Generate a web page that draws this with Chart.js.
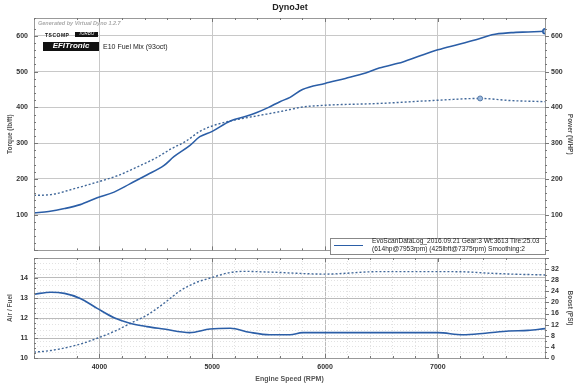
<!DOCTYPE html>
<html>
<head>
<meta charset="utf-8">
<script src="https://cdn.jsdelivr.net/npm/chart.js@4.4.0/dist/chart.umd.min.js"></script>
<style>
  body { margin: 0; background: #fff; font-family: "Liberation Sans", Arial, sans-serif; }
  #wrap { position: relative; width: 580px; height: 386px; overflow: hidden; }
  canvas { position: absolute; left: 0; }
  .t { position: absolute; white-space: nowrap; line-height: 1; }
</style>
</head>
<body>
<div id="wrap">
  <canvas id="top" width="580" height="256" style="top:0"></canvas>
  <canvas id="bot" width="580" height="132" style="top:254px"></canvas>

  <div class="t" style="left:0;width:580px;text-align:center;top:3px;font-size:9px;font-weight:bold;color:#222">DynoJet</div>
  <div class="t" style="left:38px;top:21px;font-size:5.5px;font-style:italic;font-weight:bold;color:#aaa">Generated by Virtual Dyno 1.2.7</div>
  <div class="t" style="left:45px;top:33px;font-size:5px;font-weight:bold;color:#111;letter-spacing:0.5px">TSCOMP</div>
  <div class="t" style="left:75px;top:32px;width:23px;height:5px;background:#111;color:#fff;font-size:4.5px;font-style:italic;text-align:center">TURBO</div>
  <div class="t" style="left:43px;top:42px;width:56px;height:9px;background:#111;color:#fff;font-size:8px;font-style:italic;font-weight:bold;text-align:center">EFITronic</div>
  <div class="t" style="left:103px;top:43px;font-size:7px;color:#222">E10 Fuel Mix (93oct)</div>

  <div class="t" style="left:330px;top:238px;width:214px;height:15px;border:1px solid #888;background:#fff"></div>
  <div class="t" style="left:334px;top:245px;width:29px;height:0;border-top:1.5px solid #2b5ea7"></div>
  <div class="t" style="left:372px;top:238px;font-size:6.6px;color:#222">EvoScanDataLog_2016.09.21 Gear:3 Wt:3613 Tire:25.03</div>
  <div class="t" style="left:372px;top:246px;font-size:6.6px;color:#222">(614hp@7953rpm) (425lbft@7375rpm) Smoothing:2</div>
</div>

<script>
// top chart: power (solid, right axis) and torque (dotted, left axis)
const powerRpm = [3420, 3550, 3690, 3830, 3980, 4130, 4270, 4420, 4570, 4660, 4800, 4890, 5000, 5160, 5300, 5390, 5500, 5600, 5690, 5800, 6000, 6180, 6360, 6480, 6690, 6850, 7000, 7180, 7360, 7480, 7650, 7800, 7953];
const powerHp = [105, 109, 117, 128, 147, 163, 186, 211, 237, 262, 293, 318, 333, 362, 375, 385, 400, 416, 428, 450, 467, 481, 496, 510, 527, 545, 561, 576, 591, 603, 609, 611, 613];

const torqueRpm = [3420, 3570, 3770, 3980, 4160, 4360, 4510, 4630, 4770, 4890, 5000, 5160, 5390, 5600, 5690, 5800, 6000, 6480, 7000, 7375, 7650, 7953];
const torqueLbft = [154, 156, 172, 191, 209, 237, 260, 283, 306, 333, 348, 362, 376, 388, 394, 401, 406, 411, 420, 425, 419, 416];

// bottom chart: air/fuel (solid, left) and boost (dotted, right)
const afrRpm = [3420, 3570, 3690, 3830, 3980, 4130, 4270, 4420, 4570, 4800, 4980, 5160, 5330, 5510, 5690, 5800, 6190, 7000, 7220, 7420, 7630, 7800, 7950];
const afrVal = [13.19, 13.29, 13.23, 12.98, 12.48, 12.01, 11.74, 11.57, 11.45, 11.27, 11.45, 11.49, 11.29, 11.16, 11.16, 11.27, 11.27, 11.27, 11.16, 11.24, 11.35, 11.38, 11.47];

const boostRpm = [3420, 3570, 3830, 3980, 4160, 4270, 4420, 4570, 4720, 4860, 5000, 5160, 5300, 5450, 5600, 5690, 6000, 6480, 7000, 7250, 7420, 7660, 7950];
const boostPsi = [2.1, 2.7, 5.0, 7.1, 10.1, 12.4, 15.4, 19.6, 24.3, 27.2, 29.0, 30.8, 31.2, 31.0, 30.8, 30.6, 30.2, 31.1, 31.1, 31.0, 30.6, 30.2, 29.9];

const rpmMin = 3420, rpmMax = 7950;
const rpmLabels = [4000, 5000, 6000, 7000];

const pts = (xs, ys) => xs.map((x, i) => ({ x: x, y: ys[i] }));
const isMult = (v, m) => Math.abs(v / m - Math.round(v / m)) < 1e-6;

const blue = "#2b5ea7";
const dotBlue = "#41689a";
const tickFont = { family: "Liberation Sans", size: 7, weight: "bold" };
const titleFont = { family: "Liberation Sans", size: 6.5, weight: "bold" };

function noPad(s) { s.paddingTop = 0; s.paddingBottom = 0; s.paddingLeft = 0; s.paddingRight = 0; }

// frame and small inward tick marks
function frame(majors) {
  return {
    id: "frame",
    afterDraw(chart) {
      const { ctx, chartArea: a } = chart;
      ctx.save();
      ctx.strokeStyle = "#999";
      ctx.lineWidth = 1;
      ctx.strokeRect(Math.round(a.left) + 0.5, Math.round(a.top) + 0.5, Math.round(a.right - a.left), Math.round(a.bottom - a.top));
      ctx.strokeStyle = "#777";
      Object.keys(majors).forEach(id => {
        const s = chart.scales[id];
        s.ticks.forEach(t => {
          const p = Math.round(s.getPixelForValue(t.value)) + 0.5;
          const len = isMult(t.value, majors[id]) ? 4 : 2;
          ctx.beginPath();
          if (s.isHorizontal()) {
            ctx.moveTo(p, a.bottom); ctx.lineTo(p, a.bottom - len);
            ctx.moveTo(p, a.top); ctx.lineTo(p, a.top + len);
          } else if (s.position === "left") {
            ctx.moveTo(a.left, p); ctx.lineTo(a.left + len, p);
          } else {
            ctx.moveTo(a.right, p); ctx.lineTo(a.right + len, p);
          }
          ctx.stroke();
        });
      });
      ctx.restore();
    }
  };
}

const lastIdx = powerRpm.length - 1;
const peakIdx = torqueLbft.indexOf(Math.max(...torqueLbft));

new Chart(document.getElementById("top"), {
  type: "line",
  data: {
    datasets: [
      {
        label: "Power",
        data: pts(powerRpm, powerHp),
        yAxisID: "y1",
        borderColor: blue,
        borderWidth: 1.6,
        backgroundColor: "#9bb8dc",
        pointBorderColor: blue,
        pointRadius: c => (c.dataIndex === lastIdx ? 2.5 : 0),
        cubicInterpolationMode: "monotone",
      },
      {
        label: "Torque",
        data: pts(torqueRpm, torqueLbft),
        yAxisID: "y",
        borderColor: dotBlue,
        borderWidth: 1.4,
        borderDash: [2, 2],
        backgroundColor: "#9bb8dc",
        pointBorderColor: dotBlue,
        pointBorderWidth: 0.8,
        pointRadius: c => (c.dataIndex === peakIdx ? 2.5 : 0),
        cubicInterpolationMode: "monotone",
      },
    ],
  },
  options: {
    responsive: false,
    animation: false,
    layout: { padding: { top: 18, left: 0, right: 0, bottom: 0 } },
    plugins: { legend: { display: false }, tooltip: { enabled: false } },
    scales: {
      x: {
        type: "linear",
        min: rpmMin,
        max: rpmMax,
        ticks: { display: false, stepSize: 200, autoSkip: false, maxTicksLimit: 1000 },
        grid: { drawTicks: false, color: c => (c.tick && rpmLabels.includes(c.tick.value) ? "#c8c8c8" : "rgba(0,0,0,0)") },
        border: { color: "#999" },
        afterFit: s => { s.height = 3; noPad(s); },
      },
      y: {
        position: "left",
        min: 0,
        max: 650,
        ticks: {
          stepSize: 20, autoSkip: false, maxTicksLimit: 1000, padding: 6, color: "#333", font: tickFont,
          callback: v => (isMult(v, 100) && v > 0 ? String(v) : ""),
        },
        grid: { drawTicks: false, color: c => (c.tick && isMult(c.tick.value, 100) ? "#c8c8c8" : "rgba(0,0,0,0)") },
        border: { color: "#999" },
        title: { display: true, text: "Torque (lb/ft)", color: "#555", font: titleFont, padding: { top: 6, bottom: 0 } },
        afterFit: s => { s.width = 34; noPad(s); },
      },
      y1: {
        position: "right",
        min: 0,
        max: 650,
        ticks: {
          stepSize: 20, autoSkip: false, maxTicksLimit: 1000, padding: 6, color: "#333", font: tickFont,
          callback: v => (isMult(v, 100) && v > 0 ? String(v) : ""),
        },
        grid: { drawTicks: false, drawOnChartArea: false },
        border: { color: "#999" },
        title: { display: true, text: "Power (WHP)", color: "#555", font: titleFont, padding: { top: 6, bottom: 0 } },
        afterFit: s => { s.width = 35; noPad(s); },
      },
    },
  },
  plugins: [frame({ x: 1000, y: 100, y1: 100 })],
});

new Chart(document.getElementById("bot"), {
  type: "line",
  data: {
    datasets: [
      {
        label: "Air / Fuel",
        data: pts(afrRpm, afrVal),
        yAxisID: "y",
        borderColor: blue,
        borderWidth: 1.6,
        pointRadius: 0,
        cubicInterpolationMode: "monotone",
      },
      {
        label: "Boost",
        data: pts(boostRpm, boostPsi),
        yAxisID: "y1",
        borderColor: dotBlue,
        borderWidth: 1.4,
        borderDash: [2, 2],
        pointRadius: 0,
        cubicInterpolationMode: "monotone",
      },
    ],
  },
  options: {
    responsive: false,
    animation: false,
    layout: { padding: { top: 4, left: 0, right: 0, bottom: 0 } },
    plugins: { legend: { display: false }, tooltip: { enabled: false } },
    scales: {
      x: {
        type: "linear",
        min: rpmMin,
        max: rpmMax,
        ticks: {
          stepSize: 200, autoSkip: false, maxTicksLimit: 1000, padding: 5, color: "#333", font: tickFont, maxRotation: 0,
          callback: v => (rpmLabels.includes(v) ? String(v) : ""),
        },
        grid: {
          drawTicks: false,
          color: c => (c.tick && rpmLabels.includes(c.tick.value) ? "#bbb" : "#e2e2e2"),
        },
        border: { color: "#999", dash: c => (c.tick && !rpmLabels.includes(c.tick.value) ? [1, 2] : []) },
        title: { display: true, text: "Engine Speed (RPM)", color: "#555", font: { family: "Liberation Sans", size: 7, weight: "bold" }, padding: { top: 0, bottom: 3 } },
        afterFit: s => { s.height = 28; noPad(s); },
      },
      y: {
        position: "left",
        min: 10,
        max: 15,
        ticks: {
          stepSize: 0.25, autoSkip: false, maxTicksLimit: 1000, padding: 6, color: "#333", font: tickFont,
          callback: v => (isMult(v, 1) && v < 15 ? String(Math.round(v)) : ""),
        },
        grid: { drawTicks: false, color: c => (c.tick && isMult(c.tick.value, 1) ? "#bbb" : "rgba(0,0,0,0)") },
        border: { color: "#999" },
        title: { display: true, text: "Air / Fuel", color: "#555", font: titleFont, padding: { top: 6, bottom: 0 } },
        afterFit: s => { s.width = 34; noPad(s); },
      },
      y1: {
        position: "right",
        min: 0,
        max: 36,
        ticks: {
          stepSize: 2, autoSkip: false, maxTicksLimit: 1000, padding: 6, color: "#333", font: tickFont,
          callback: v => (isMult(v, 4) && v < 36 ? String(v) : ""),
        },
        grid: { drawTicks: false, color: c => (c.tick && !isMult(c.tick.value, 4) || (c.tick && c.tick.value % 4 === 0) ? "#e2e2e2" : "rgba(0,0,0,0)") },
        border: { color: "#999", dash: c => (c.tick ? [1, 2] : []) },
        title: { display: true, text: "Boost (PSI)", color: "#555", font: titleFont, padding: { top: 6, bottom: 0 } },
        afterFit: s => { s.width = 35; noPad(s); },
      },
    },
  },
  plugins: [frame({ x: 1000, y: 1, y1: 4 })],
});
</script>
</body>
</html>
